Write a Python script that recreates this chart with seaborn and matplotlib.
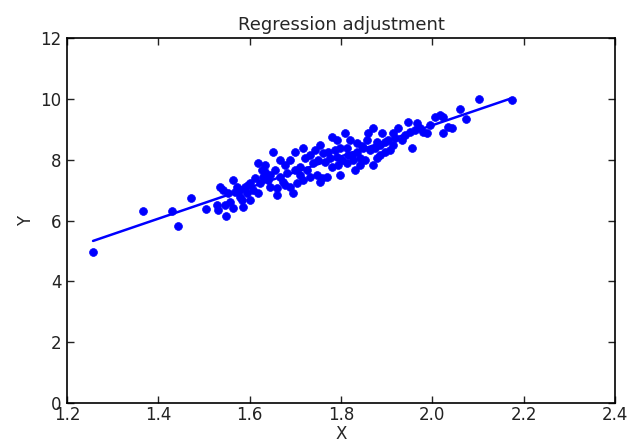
import matplotlib

matplotlib.use("Agg")

import matplotlib.pyplot as plt
import numpy as np
import seaborn as sns

x_values = [
    1.257, 1.366, 1.430, 1.443, 1.472, 1.504, 1.528, 1.531, 1.546, 1.548,
    1.535, 1.542, 1.563, 1.572, 1.553, 1.579, 1.590, 1.601, 1.607, 1.601,
    1.583, 1.618, 1.563, 1.557, 1.594, 1.585, 1.618, 1.634, 1.629, 1.640,
    1.623, 1.644, 1.660, 1.651, 1.655, 1.666, 1.682, 1.673, 1.688, 1.660,
    1.695, 1.699, 1.717, 1.710, 1.726, 1.739, 1.732, 1.717, 1.704, 1.747,
    1.758, 1.769, 1.754, 1.798, 1.831, 1.754, 1.780, 1.791, 1.809, 1.761,
    1.772, 1.791, 1.813, 1.824, 1.835, 1.848, 1.857, 1.859, 1.813, 1.826,
    1.842, 1.820, 1.835, 1.846, 1.870, 1.890, 1.879, 1.896, 1.914, 1.925,
    1.934, 1.947, 1.951, 1.966, 1.973, 1.988, 2.006, 2.017, 2.023, 2.034,
    2.023, 2.043, 1.955, 1.879, 1.870, 1.896, 1.914, 2.061, 2.074, 2.102,
    2.174, 1.979, 1.579, 1.627, 1.677, 1.688, 1.721, 1.732, 1.743, 1.750,
    1.765, 1.776, 1.787, 1.798, 1.802, 1.815, 1.710, 1.699, 1.677, 1.644,
    1.612, 1.596, 1.568, 1.634, 1.666, 1.780, 1.793, 1.842, 1.853, 1.863,
    1.875, 1.885, 1.903, 1.918, 1.940, 1.962, 1.995, 1.885, 1.907,
]
y_values = [
    4.96, 6.31, 6.31, 5.82, 6.74, 6.38, 6.51, 6.34, 6.51, 6.15,
    7.10, 7.00, 7.33, 7.10, 6.90, 6.77, 7.10, 7.23, 7.00, 6.67,
    6.67, 6.90, 6.41, 6.61, 6.90, 6.44, 7.89, 7.59, 7.43, 7.33,
    7.23, 7.10, 7.07, 8.25, 7.66, 7.43, 7.56, 7.26, 7.10, 6.84,
    6.90, 8.25, 8.38, 7.76, 7.66, 7.89, 7.43, 7.33, 7.23, 7.50,
    7.40, 7.43, 7.26, 7.50, 7.66, 8.48, 8.74, 8.65, 8.88, 8.22,
    8.25, 8.09, 8.38, 8.15, 8.25, 8.38, 8.65, 8.88, 7.89, 7.99,
    8.05, 8.65, 8.55, 8.45, 9.04, 8.88, 8.58, 8.58, 8.88, 9.04,
    8.65, 9.24, 8.91, 9.20, 9.04, 8.88, 9.40, 9.47, 9.40, 9.07,
    8.88, 9.04, 8.38, 8.05, 7.82, 8.25, 8.48, 9.66, 9.34, 9.99,
    9.96, 8.91, 7.00, 7.66, 7.82, 7.99, 8.05, 8.15, 8.32, 7.99,
    7.92, 8.05, 8.32, 8.38, 7.99, 8.15, 7.50, 7.66, 7.17, 7.50,
    7.40, 7.17, 6.94, 7.82, 7.99, 7.76, 7.82, 7.82, 7.99, 8.32,
    8.38, 8.48, 8.65, 8.71, 8.81, 8.97, 9.14, 8.15, 8.32,
]
x_ticks = [1.2, 1.4, 1.6, 1.8, 2.0, 2.2, 2.4]
y_ticks = [0, 2, 4, 6, 8, 10, 12]

sns.set_style("ticks")
plt.rcParams["font.family"] = ["DejaVu Sans"]

fig, ax = plt.subplots(figsize=(6.27, 4.48), dpi=100)
fig.subplots_adjust(left=0.1069, right=0.9809, bottom=0.1004, top=0.9152)

sns.regplot(
    x=np.array(x_values),
    y=np.array(y_values),
    ci=None,
    color="#0000ff",
    scatter_kws={"s": 32, "alpha": 1, "edgecolor": "#0000ff", "linewidths": 0.5},
    line_kws={"lw": 1.8},
    ax=ax,
)

ax.set_xlim(1.2, 2.4)
ax.set_ylim(0, 12)
ax.set_xticks(x_ticks)
ax.set_yticks(y_ticks)
ax.tick_params(direction="in", length=5, width=1, top=True, right=True, labelsize=12, colors="#222222")
ax.tick_params(axis="x", pad=2)
ax.tick_params(axis="y", pad=4)
for spine in ax.spines.values():
    spine.set_visible(True)
    spine.set_linewidth(1.2)
    spine.set_color("black")
ax.set_title("Regression adjustment", fontsize=13)
ax.set_xlabel("X", fontsize=12, labelpad=1)
ax.set_ylabel("Y", fontsize=12)

fig.savefig("out.png", dpi=100)
plt.close(fig)
